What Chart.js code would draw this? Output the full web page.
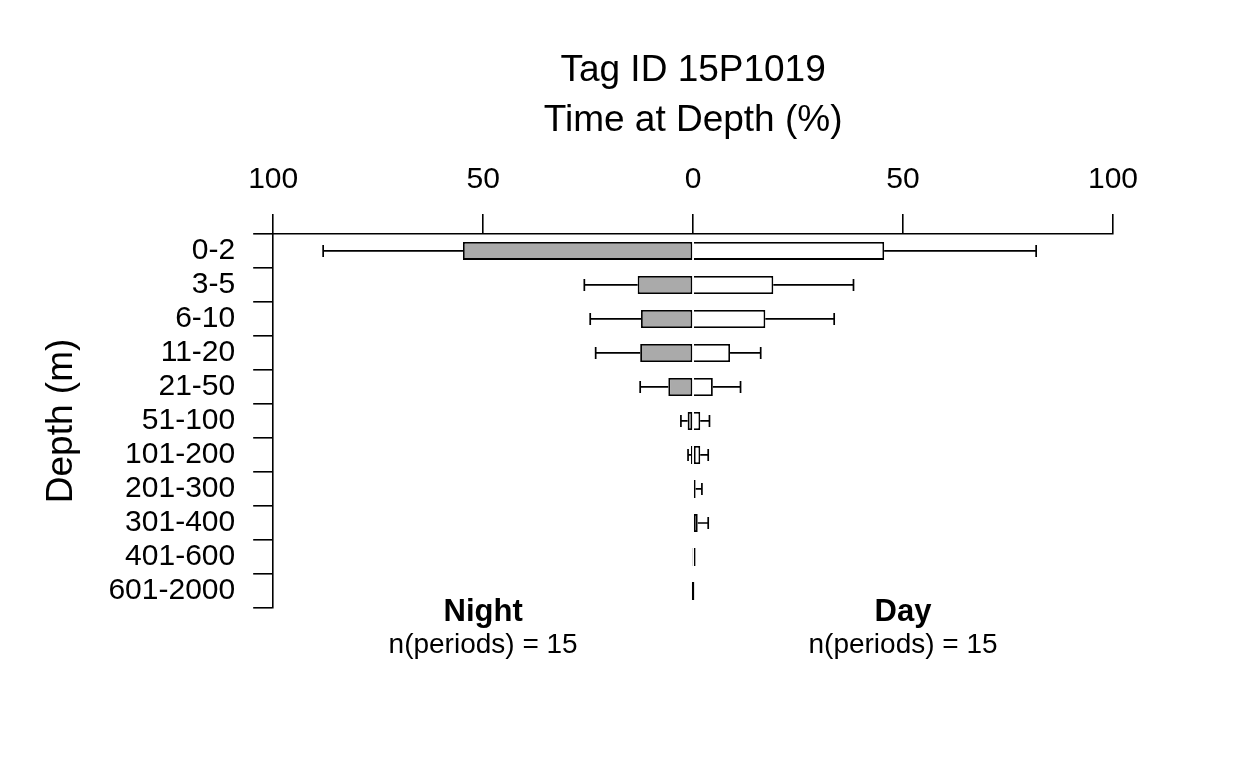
<!DOCTYPE html>
<html>
<head>
<meta charset="utf-8">
<script src="https://cdn.jsdelivr.net/npm/chart.js@4.4.1/dist/chart.umd.min.js"></script>
<style>
  body { margin: 0; background: #fff; }
</style>
</head>
<body>
<canvas id="tadChart" width="1248" height="768"></canvas>
<script>
// Time at depth, tag 15P1019 -- night on the left, day on the right
const depths = ["0-2", "3-5", "6-10", "11-20", "21-50", "51-100", "101-200",
  "201-300", "301-400", "401-600", "601-2000"];
const nightPct = [54.8, 13.2, 12.4, 12.6, 5.9, 1.3, 0.5, 0.2, 0, 0.1, 0];
const nightErr = [88.1, 25.9, 24.5, 23.2, 12.6, 2.9, 1.2, 0.2, 0, 0.1, 0];
const dayPct = [45.5, 19.1, 17.2, 8.8, 4.7, 1.7, 1.7, 0.6, 1.1, 0.1, 0];
const dayErr = [81.7, 38.2, 33.6, 16.1, 11.3, 3.9, 3.6, 2.1, 3.6, 0.1, 0];
const xTicks = [-100, -50, 0, 50, 100];
const nPeriods = { night: 15, day: 15 };

const fontFam = "'Liberation Sans', Arial, sans-serif";

// error bars + Night / Day labels
const extras = {
  id: "extras",
  afterDatasetsDraw(chart) {
    const { ctx, scales: { x, y } } = chart;
    ctx.save();
    ctx.strokeStyle = "#000";
    ctx.lineWidth = 1.7;
    depths.forEach((d, i) => {
      const cy = y.getPixelForValue(i);
      [[-nightPct[i], -nightErr[i]], [dayPct[i], dayErr[i]]].forEach(([v, e]) => {
        if (Math.abs(e) <= Math.abs(v)) return;
        const x0 = x.getPixelForValue(v), x1 = x.getPixelForValue(e);
        ctx.beginPath();
        ctx.moveTo(x0, cy); ctx.lineTo(x1, cy);
        ctx.moveTo(x1, cy - 6); ctx.lineTo(x1, cy + 6);
        ctx.stroke();
      });
    });
    ctx.fillStyle = "#000";
    ctx.textAlign = "center";
    ctx.textBaseline = "middle";
    const yb = chart.chartArea.bottom;
    [["Night", -50, nPeriods.night], ["Day", 50, nPeriods.day]].forEach(([lab, v, n]) => {
      const px = x.getPixelForValue(v);
      ctx.font = "bold 31px " + fontFam;
      ctx.fillText(lab, px, yb + 4);
      ctx.font = "28px " + fontFam;
      ctx.fillText("n(periods) = " + n, px, yb + 37);
    });
    ctx.restore();
  }
};

new Chart(document.getElementById("tadChart"), {
  type: "bar",
  data: {
    labels: depths,
    datasets: [
      {
        label: "Night",
        data: nightPct.map(v => -v),
        backgroundColor: "#aaaaaa",
        borderColor: "#000",
        borderWidth: 1.8,
        borderSkipped: false
      },
      {
        label: "Day",
        data: dayPct,
        backgroundColor: "#ffffff",
        borderColor: "#000",
        borderWidth: 1.8,
        // share the zero line with the night bar when there is one
        borderSkipped: c => nightPct[c.dataIndex] > 1 ? "start" : false,
        minBarLength: 2.5
      }
    ]
  },
  options: {
    indexAxis: "y",
    responsive: false,
    animation: false,
    layout: { padding: { left: 36, right: 135, top: 16, bottom: 160 } },
    plugins: {
      legend: { display: false },
      tooltip: { enabled: false },
      title: {
        display: true,
        fullSize: false,
        text: ["Tag ID 15P1019", "Time at Depth (%)"],
        color: "#000",
        font: { family: fontFam, size: 37, weight: "normal", lineHeight: 1.35 },
        padding: { top: 30, bottom: 0 }
      }
    },
    scales: {
      x: {
        position: "top",
        stacked: true,
        min: -100,
        max: 100,
        afterBuildTicks: s => { s.ticks = xTicks.map(v => ({ value: v })); },
        ticks: {
          callback: v => Math.abs(v),
          color: "#000",
          font: { family: fontFam, size: 30 },
          padding: 16,
          maxRotation: 0
        },
        grid: { drawOnChartArea: false, drawTicks: true, tickLength: 20, color: "#000", lineWidth: 1.6 },
        border: { display: true, color: "#000", width: 1.6 }
      },
      y: {
        stacked: true,
        ticks: {
          color: "#000",
          font: { family: fontFam, size: 30 },
          padding: 18,
          autoSkip: false
        },
        grid: { offset: true, drawOnChartArea: false, drawTicks: true, tickLength: 20, color: "#000", lineWidth: 1.6 },
        border: { display: true, color: "#000", width: 1.6 },
        title: {
          display: true,
          text: "Depth (m)",
          color: "#000",
          font: { family: fontFam, size: 37 },
          padding: { bottom: 6 }
        }
      }
    },
    datasets: { bar: { barPercentage: 0.53, categoryPercentage: 1 } }
  },
  plugins: [extras]
});
</script>
</body>
</html>
